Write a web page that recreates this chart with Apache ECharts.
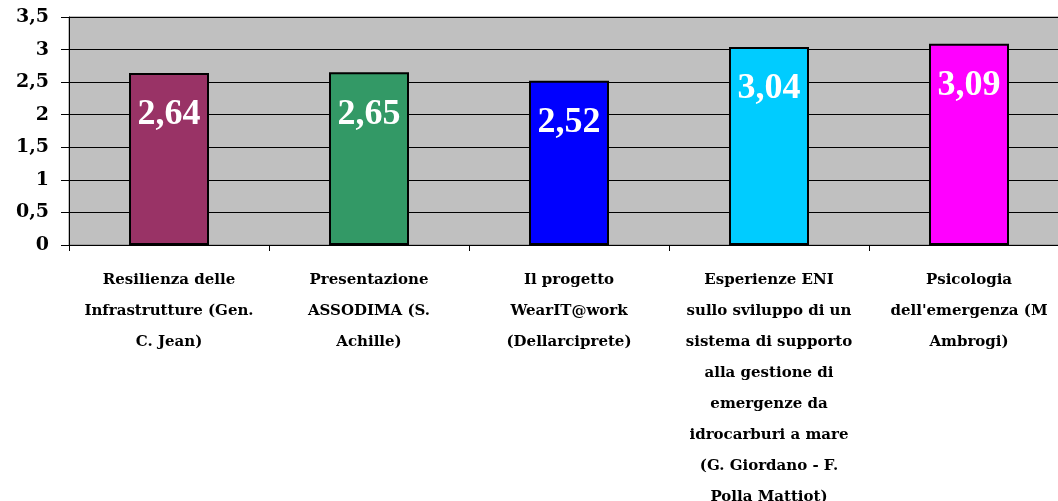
<!DOCTYPE html>
<html><head><meta charset="utf-8">
<script src="https://cdn.jsdelivr.net/npm/echarts@6/dist/echarts.min.js"></script>
<style>html,body{margin:0;padding:0;background:#fff}#c{width:1058px;height:501px}</style>
</head><body><div id="c"></div>
<script>
const categories = [
  "Resilienza delle\nInfrastrutture (Gen.\nC. Jean)",
  "Presentazione\nASSODIMA (S.\nAchille)",
  "Il progetto\nWearIT@work\n(Dellarciprete)",
  "Esperienze ENI\nsullo sviluppo di un\nsistema di supporto\nalla gestione di\nemergenze da\nidrocarburi a mare\n(G. Giordano - F.\nPolla Mattiot)",
  "Psicologia\ndell'emergenza (M\nAmbrogi)"
];
const values = [2.64, 2.65, 2.52, 3.04, 3.09];
const barColors = ["#993366", "#339966", "#0000FF", "#00CCFF", "#FF00FF"];
const yTicks = [0, 0.5, 1, 1.5, 2, 2.5, 3, 3.5];

const font = "'Liberation Serif', 'DejaVu Serif', serif";
const catFont = "'DejaVu Serif', 'Liberation Serif', serif";
const chart = echarts.init(document.getElementById('c'), null, {renderer: 'canvas'});
chart.setOption({
  animation: false,
  grid: {left: 69, top: 17, width: 1000, bottom: 256, containLabel: false, outerBoundsMode: 'none',
    show: true, backgroundColor: '#C0C0C0', borderColor: '#808080', borderWidth: 1},
  xAxis: {
    type: 'category', data: categories,
    axisLine: {lineStyle: {color: '#000', width: 1}},
    axisTick: {show: true, alignWithLabel: false, length: 6, lineStyle: {color: '#000'}},
    axisLabel: {interval: 0, margin: 20, fontFamily: catFont, fontWeight: 'bold', fontSize: 15, lineHeight: 31, color: '#000', align: 'center'}
  },
  yAxis: {
    type: 'value', min: 0, max: 3.5, interval: 0.5,
    axisLine: {show: true, lineStyle: {color: '#000', width: 1}},
    axisTick: {show: true, length: 8, lineStyle: {color: '#000'}},
    splitLine: {show: true, lineStyle: {color: '#000', width: 1}},
    axisLabel: {margin: 20, fontFamily: catFont, fontWeight: 'bold', fontSize: 19, color: '#000',
      formatter: v => String(v).replace('.', ',')}
  },
  series: [{
    type: 'bar', barWidth: 80,
    data: values.map((v, i) => ({value: v, itemStyle: {color: barColors[i]}})),
    itemStyle: {borderColor: '#000', borderWidth: 2},
    label: {show: true, position: 'insideTop', distance: 24, color: '#fff', fontFamily: font, fontWeight: 'bold', fontSize: 36,
      formatter: p => p.value.toFixed(2).replace('.', ',')}
  }]
});
</script></body></html>
